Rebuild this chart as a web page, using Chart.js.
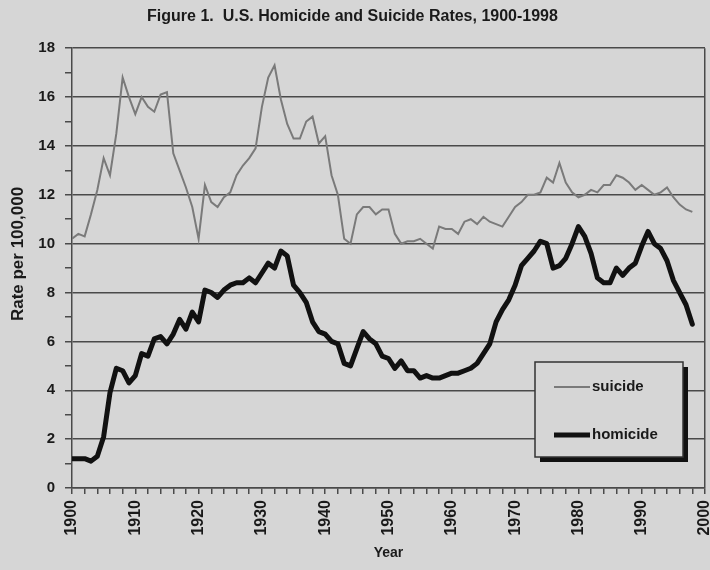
<!DOCTYPE html>
<html>
<head>
<meta charset="utf-8">
<script src="https://cdn.jsdelivr.net/npm/chart.js@4"></script>
<style>
  body { margin: 0; background: #d6d6d6; }
  #wrap { width: 710px; height: 570px; }
</style>
</head>
<body>
<div id="wrap"><canvas id="rates"></canvas></div>
<script>
// Years on the x axis, 1900 to 1998
const firstYear = 1900;
const lastYear = 1998;
const years = Array.from({ length: lastYear - firstYear + 1 }, (_, i) => firstYear + i);

// Suicide rate per 100,000
const suicide = [
  10.2, 10.4, 10.3, 11.2, 12.2, 13.5, 12.8, 14.5, 16.8, 16.0,
  15.3, 16.0, 15.6, 15.4, 16.1, 16.2, 13.7, 13.0, 12.3, 11.5,
  10.2, 12.4, 11.7, 11.5, 11.9, 12.1, 12.8, 13.2, 13.5, 13.9,
  15.6, 16.8, 17.3, 15.9, 14.9, 14.3, 14.3, 15.0, 15.2, 14.1,
  14.4, 12.8, 12.0, 10.2, 10.0, 11.2, 11.5, 11.5, 11.2, 11.4,
  11.4, 10.4, 10.0, 10.1, 10.1, 10.2, 10.0, 9.8, 10.7, 10.6,
  10.6, 10.4, 10.9, 11.0, 10.8, 11.1, 10.9, 10.8, 10.7, 11.1,
  11.5, 11.7, 12.0, 12.0, 12.1, 12.7, 12.5, 13.3, 12.5, 12.1,
  11.9, 12.0, 12.2, 12.1, 12.4, 12.4, 12.8, 12.7, 12.5, 12.2,
  12.4, 12.2, 12.0, 12.1, 12.3, 11.9, 11.6, 11.4, 11.3
];

// Homicide rate per 100,000
const homicide = [
  1.2, 1.2, 1.2, 1.1, 1.3, 2.1, 3.9, 4.9, 4.8, 4.3,
  4.6, 5.5, 5.4, 6.1, 6.2, 5.9, 6.3, 6.9, 6.5, 7.2,
  6.8, 8.1, 8.0, 7.8, 8.1, 8.3, 8.4, 8.4, 8.6, 8.4,
  8.8, 9.2, 9.0, 9.7, 9.5, 8.3, 8.0, 7.6, 6.8, 6.4,
  6.3, 6.0, 5.9, 5.1, 5.0, 5.7, 6.4, 6.1, 5.9, 5.4,
  5.3, 4.9, 5.2, 4.8, 4.8, 4.5, 4.6, 4.5, 4.5, 4.6,
  4.7, 4.7, 4.8, 4.9, 5.1, 5.5, 5.9, 6.8, 7.3, 7.7,
  8.3, 9.1, 9.4, 9.7, 10.1, 10.0, 9.0, 9.1, 9.4, 10.0,
  10.7, 10.3, 9.6, 8.6, 8.4, 8.4, 9.0, 8.7, 9.0, 9.2,
  9.9, 10.5, 10.0, 9.8, 9.3, 8.5, 8.0, 7.5, 6.7
];

const bg = '#d6d6d6';
const ink = '#4a4a4a';
const font = "'Liberation Sans', Arial, sans-serif";

// paint the grey page
const paper = {
  id: 'paper',
  beforeDraw(chart) {
    const ctx = chart.ctx;
    ctx.save();
    ctx.fillStyle = bg;
    ctx.fillRect(0, 0, chart.width, chart.height);
    ctx.restore();
  }
};

// y axis title, placed like the original
const yTitle = {
  id: 'yTitle',
  afterDraw(chart) {
    const ctx = chart.ctx;
    ctx.save();
    ctx.translate(18, 254);
    ctx.rotate(-Math.PI / 2);
    ctx.font = 'bold 17px ' + font;
    ctx.fillStyle = '#1a1a1a';
    ctx.textAlign = 'center';
    ctx.textBaseline = 'middle';
    ctx.fillText('Rate per 100,000', 0, 0);
    ctx.restore();
  }
};

// boxed legend with drop shadow inside the plot
const boxLegend = {
  id: 'boxLegend',
  afterDatasetsDraw(chart) {
    const ctx = chart.ctx;
    const x = 535, y = 362, w = 148, h = 95;
    ctx.save();
    ctx.fillStyle = '#111';
    ctx.fillRect(x + 5, y + 5, w, h);
    ctx.fillStyle = bg;
    ctx.fillRect(x, y, w, h);
    ctx.strokeStyle = '#333';
    ctx.lineWidth = 1.5;
    ctx.strokeRect(x, y, w, h);
    ctx.font = 'bold 15px ' + font;
    ctx.textBaseline = 'middle';
    chart.data.datasets.forEach((ds, i) => {
      const ly = y + 25 + i * 48;
      ctx.strokeStyle = ds.borderColor;
      ctx.lineWidth = ds.borderWidth;
      ctx.beginPath();
      ctx.moveTo(x + 19, ly);
      ctx.lineTo(x + 55, ly);
      ctx.stroke();
      ctx.fillStyle = '#1a1a1a';
      ctx.fillText(ds.label, x + 57, ly);
    });
    ctx.restore();
  }
};

new Chart(document.getElementById('rates'), {
  type: 'line',
  data: {
    datasets: [
      {
        label: 'suicide',
        data: years.map((yr, i) => ({ x: yr, y: suicide[i] })),
        borderColor: '#7a7a7a',
        borderWidth: 2,
        pointRadius: 0,
        tension: 0
      },
      {
        label: 'homicide',
        data: years.map((yr, i) => ({ x: yr, y: homicide[i] })),
        borderColor: '#111111',
        borderWidth: 5,
        borderJoinStyle: 'round',
        borderCapStyle: 'round',
        pointRadius: 0,
        tension: 0
      }
    ]
  },
  options: {
    responsive: true,
    maintainAspectRatio: false,
    animation: false,
    layout: { padding: { left: 0, right: 5, top: 0, bottom: 0 } },
    plugins: {
      legend: { display: false },
      tooltip: { enabled: false },
      title: {
        display: true,
        text: 'Figure 1.  U.S. Homicide and Suicide Rates, 1900-1998',
        color: '#1a1a1a',
        font: { family: font, size: 16, weight: 'bold' },
        padding: { top: 7, bottom: 22 }
      }
    },
    scales: {
      x: {
        type: 'linear',
        min: 1900,
        max: 2000,
        afterFit(scale) {
          scale.height = 82;
          scale.paddingRight = 0;
          scale.paddingLeft = 0;
        },
        border: { color: ink, width: 1.5 },
        grid: {
          color: c => (c.tick && c.tick.value === 2000 ? ink : 'transparent'),
          lineWidth: 1.5,
          tickColor: ink,
          tickLength: 6
        },
        ticks: {
          stepSize: 2,
          autoSkip: false,
          maxRotation: 90,
          minRotation: 90,
          padding: 6,
          color: '#1a1a1a',
          font: { family: font, size: 16, weight: 'bold' },
          callback: v => (v % 10 === 0 ? String(v) : '')
        },
        title: {
          display: true,
          text: 'Year',
          color: '#1a1a1a',
          font: { family: font, size: 14, weight: 'bold' },
          padding: { top: 0, bottom: 8 }
        }
      },
      y: {
        min: 0,
        max: 18,
        afterFit(scale) {
          scale.width = 72;
        },
        border: { color: ink, width: 1.5 },
        grid: {
          color: c => (c.tick && c.tick.value % 2 === 0 ? ink : 'transparent'),
          lineWidth: 1.5,
          tickColor: ink,
          tickLength: 7
        },
        ticks: {
          stepSize: 1,
          autoSkip: false,
          padding: 10,
          color: '#1a1a1a',
          font: { family: font, size: 15, weight: 'bold' },
          callback: v => (v % 2 === 0 ? String(v) : '')
        }
      }
    }
  },
  plugins: [paper, yTitle, boxLegend]
});
</script>
</body>
</html>
